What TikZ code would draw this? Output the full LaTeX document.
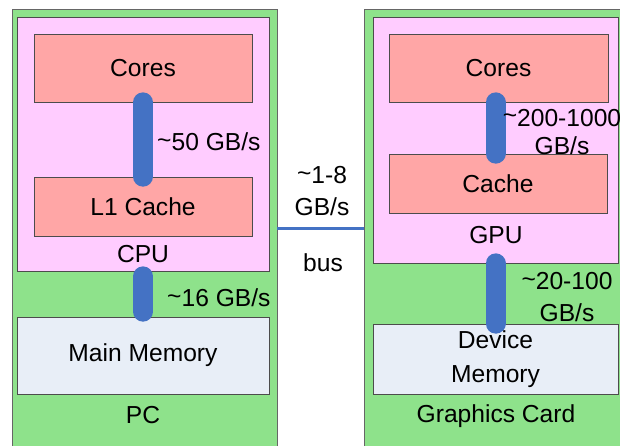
\documentclass[tikz,border=0pt]{standalone}
\usepackage{fontspec}
\setmainfont{Liberation Sans}
\definecolor{boardgreen}{HTML}{8EE28B}
\definecolor{chippink}{HTML}{FFCCFF}
\definecolor{unitred}{HTML}{FFA6A6}
\definecolor{memgray}{HTML}{E8EEF7}
\definecolor{linkblue}{HTML}{4472C4}
\newcommand{\bw}[1]{\raisebox{0.2ex}{\textasciitilde}#1}
\begin{document}
\begin{tikzpicture}[
    every node/.style={font=\fontsize{21}{27}\selectfont, inner sep=0pt},
    board/.style={draw=black!60, line width=0.8pt, fill=boardgreen, rectangle},
    chip/.style={draw=black!70, line width=0.6pt, fill=chippink, rectangle},
    unit/.style={draw=black!70, line width=0.6pt, fill=unitred, rectangle},
    mem/.style={draw=black!70, line width=0.6pt, fill=memgray, rectangle},
    link/.style={draw=linkblue, line width=0.6cm, line cap=round},
    bus/.style={draw=linkblue, line width=0.09cm}
]
    \useasboundingbox (0,0) rectangle (18.6,-13.35);
    \clip (0,0) rectangle (18.6,-13.35);

    % Boards
    \node[board, minimum width=7.95cm, minimum height=13.53cm] (pc) at (4.335,-7.035) {};
    \node[board, minimum width=8.58cm, minimum height=13.53cm] (gc) at (15.21,-7.035) {};

    % Host side
    \node[chip, minimum width=7.56cm, minimum height=7.62cm] (cpu) at (4.29,-4.32) {};
    \node[unit, minimum width=6.54cm, minimum height=2.04cm] (cpucores) at (4.29,-2.04) {Cores};
    \node[unit, minimum width=6.54cm, minimum height=1.77cm] (l1) at (4.29,-6.195) {L1 Cache};
    \node (cpulabel) at (4.29,-7.62) {CPU};
    \node[mem, minimum width=7.56cm, minimum height=2.31cm] (mainmem) at (4.29,-10.665) {Main Memory};
    \node (pclabel) at (4.29,-12.45) {PC};

    % Device side
    \node[chip, minimum width=7.35cm, minimum height=7.38cm] (gpu) at (14.865,-4.2) {};
    \node[unit, minimum width=6.57cm, minimum height=2.04cm] (gpucores) at (14.955,-2.04) {Cores};
    \node[unit, minimum width=6.54cm, minimum height=1.77cm] (cache) at (14.94,-5.505) {Cache};
    \node (gpulabel) at (14.88,-7.05) {GPU};
    \node[mem, minimum width=7.35cm, minimum height=2.1cm, align=center,
          font=\fontsize{21}{29}\selectfont] (devmem) at (14.865,-10.77) {Device\\Memory};
    \node (gclabel) at (14.88,-12.48) {Graphics Card};

    % Links
    \draw[link] (cpucores.south) -- (l1.north);
    \draw[link, shorten <=0.15cm, shorten >=0.15cm] (cpu.south) -- (mainmem.north);
    \draw[link] (gpucores.south -| gpu.south) -- (cache.north -| gpu.south);
    \draw[link] (gpu.south) -- (devmem.north);
    \draw[bus] (pc.east |- 0,-6.84) -- (gc.west |- 0,-6.84);

    % Bandwidth labels
    \node[anchor=west] (bw50) at (4.71,-4.26) {\bw{50 GB/s}};
    \node[anchor=west] (bw16) at (5.01,-8.94) {\bw{16 GB/s}};
    \node[align=center, font=\fontsize{21}{24}\selectfont] (bw1000) at (16.86,-3.96) {\bw{200-1000}\\GB/s};
    \node[align=center] (bw100) at (17.01,-8.91) {\bw{20-100}\\GB/s};
    \node[align=center] (bw8) at (9.66,-5.73) {\bw{1-8}\\GB/s};
    \node (buslabel) at (9.69,-7.89) {bus};
\end{tikzpicture}
\end{document}
